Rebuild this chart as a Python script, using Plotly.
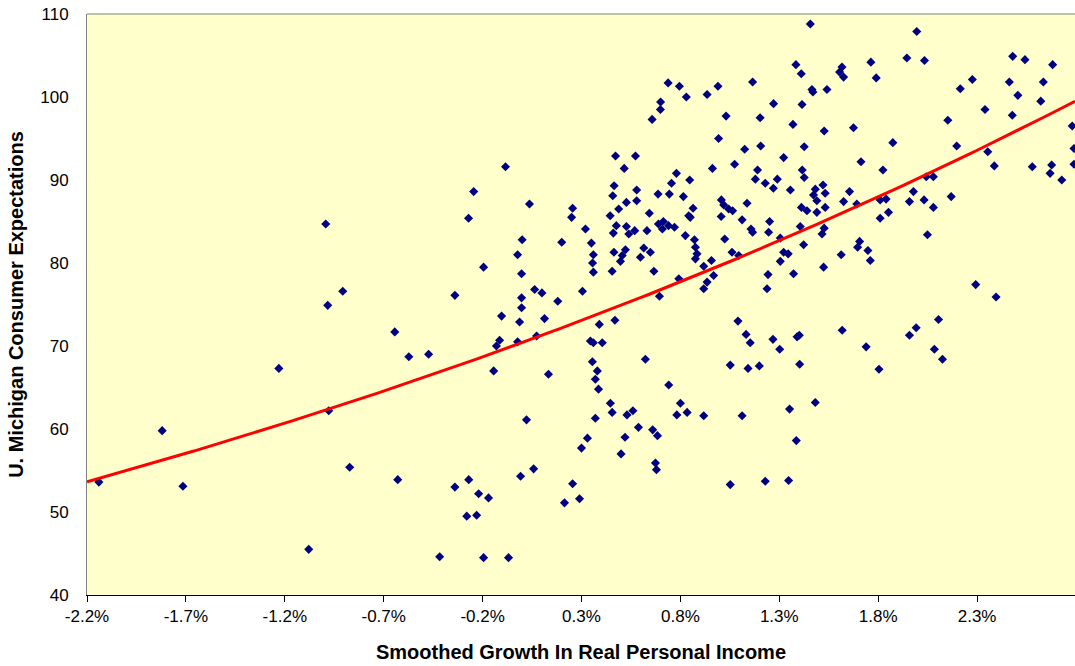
import numpy as np
import plotly.graph_objects as go

# Smoothed growth in real personal income (%), U. Michigan consumer expectations
X_GROWTH = [
    -2.14, -1.82, -1.715, -1.23, -1.079, -0.993, -0.983, -0.978, -0.907, -0.872, -0.644, -0.573, -0.629,
    -0.473, -0.417, -0.34, -0.34, -0.28, -0.271, -0.27, -0.245, -0.23, -0.22, -0.195, -0.195, -0.17, -0.144,
    -0.13, -0.114, -0.104, -0.084, -0.069, -0.023, -0.023, -0.013, -0.008, -0.003, -0.003, -0.003, 0.0, 0.022,
    0.037, 0.058, 0.063, 0.073, 0.10, 0.113, 0.133, 0.18, 0.2, 0.214, 0.25, 0.255, 0.255, 0.29, 0.30, 0.305,
    0.32, 0.33, 0.345, 0.35, 0.355, 0.356, 0.36, 0.36, 0.36, 0.37, 0.37, 0.38, 0.386, 0.39, 0.405,
    0.446, 0.455, 0.50, 0.52, 0.53, 0.56, 0.588, 0.623, 0.66, 0.674, 0.679, 0.684,
    0.469, 0.741, 0.80, 0.782, 0.834, 0.918, 1.112, 1.352, 1.091, 1.132, 1.153, 1.268, 1.302, 1.390, 1.401,
    1.403, 1.052, 1.142, 1.199, 1.052, 1.229, 1.347, 1.386,
    0.464, 0.522, 0.506, 0.497, 0.615, 0.648, 0.598, 0.455, 0.666, 0.876, 0.884, 0.876, 0.957, 0.918, 0.968,
    0.935, 0.918, 0.792, 0.694, 1.061, 1.095, 1.322, 1.345, 1.305, 1.423, 1.243, 1.372, 1.238,
    1.384, 1.411, 0.738, 0.795, 0.990, 1.165, 0.935, 0.830, 0.700, 0.699, 1.271, 1.415, 0.657, 1.031, 1.203,
    1.369, 0.993, 1.125, 1.206, 0.472, 0.573, 1.322, 0.516, 0.962, 1.074, 1.190, 1.416, 0.780, 0.847, 0.755,
    1.179, 1.229, 1.290, 1.270, 1.356, 0.465, 0.458, 0.579, 0.687, 0.744, 0.815, 0.579, 0.527, 0.488, 1.007,
    1.019, 1.044, 1.064, 1.137, 0.864, 0.445, 0.643, 0.842, 0.850, 1.006, 1.112, 1.251, 1.412, 0.476, 0.527,
    0.689, 0.714, 0.709, 0.740, 0.770, 0.461, 0.539, 0.569, 0.631, 0.825, 0.871, 1.024, 1.157, 1.165, 1.246,
    1.305,
    1.457, 1.995, 1.945, 2.034, 1.763, 1.790, 1.617, 1.605, 1.625, 1.465, 1.47, 1.541, 2.152, 2.197, 1.675,
    1.527, 1.874, 1.426, 1.713, 1.824, 1.426, 1.521, 1.482, 1.473, 1.490, 1.532, 1.655, 1.625, 1.692, 1.532,
    2.043, 2.079, 1.978, 1.958, 2.032, 2.169, 1.810, 1.840, 2.079,
    1.44, 1.490, 1.852, 1.810, 1.406, 1.527, 1.516, 2.049, 1.706, 1.696, 1.748, 1.760, 1.613, 1.524, 2.105,
    1.992, 1.958, 1.618, 1.739, 2.084, 2.125, 1.804, 1.482,
    2.480, 2.542, 2.682, 2.276, 2.215, 2.463, 2.635, 2.506, 2.622, 2.340, 2.478, 2.781, 2.354, 2.387, 2.579,
    2.677, 2.669, 2.728, 2.79, 2.79, 2.293, 2.396,
]
Y_EXPECT = [
    53.6, 59.8, 53.1, 67.3, 45.5, 84.7, 74.9, 62.2, 76.6, 55.4, 71.7, 68.7, 53.9,
    69.0, 44.6, 76.1, 53.0, 49.5, 85.4, 53.9, 88.6, 49.6, 52.2, 79.5, 44.5, 51.7, 67.0,
    70.0, 70.7, 73.6, 91.6, 44.5, 81.0, 70.5, 72.9, 54.3, 78.7, 75.8, 74.6, 82.8, 61.1,
    87.1, 55.2, 76.8, 71.2, 76.4, 73.3, 66.6, 75.4, 82.5, 51.1, 85.5, 86.6, 53.4, 51.6, 57.7, 76.6,
    84.1, 58.9, 70.6, 82.4, 68.1, 80.0, 81.0, 78.9, 70.4, 66.0, 61.3, 67.0, 64.8, 72.6, 70.4,
    63.1, 62.0, 57.0, 59.0, 61.7, 62.2, 60.2, 68.4, 59.9, 55.9, 55.1, 59.2,
    73.1, 65.3, 63.1, 61.7, 62.0, 61.6, 61.6, 62.4, 73.0, 71.4, 70.4, 70.8, 69.6, 71.1, 71.3,
    67.8, 67.7, 67.3, 67.6, 53.3, 53.7, 53.8, 58.6,
    81.3, 81.6, 80.9, 80.2, 81.8, 81.3, 80.7, 79.0, 79.0, 81.9, 81.1, 80.5, 80.3, 79.6, 78.5,
    77.7, 76.9, 78.1, 76.0, 81.3, 80.9, 81.3, 81.1, 80.2, 82.2, 78.6, 78.7, 76.9,
    103.9, 102.8, 101.7, 101.3, 101.3, 101.8, 100.3, 100.0, 99.4, 98.5, 99.2, 99.1, 97.3, 97.7, 97.5,
    96.7, 95.0, 93.7, 94.1, 92.9, 92.9, 92.7, 91.4, 91.4, 91.9, 91.2, 91.2, 90.8, 90.0, 89.6,
    90.1, 89.6, 90.1, 89.0, 88.8, 89.3, 88.1, 88.8, 88.3, 88.3, 88.0, 87.5, 87.3, 86.5, 87.6,
    87.0, 86.5, 86.3, 87.2, 86.6, 85.7, 86.0, 85.7, 85.5, 85.6, 85.2, 85.0, 86.7, 84.5, 84.4,
    84.7, 85.0, 84.1, 84.5, 84.3, 83.6, 83.5, 83.9, 83.9, 83.3, 82.8, 82.9, 84.1, 83.7, 83.7,
    83.0,
    108.8, 107.9, 104.7, 104.4, 104.2, 102.3, 103.6, 103.0, 102.4, 100.9, 100.6, 100.9, 97.2, 94.1, 96.3,
    95.9, 94.5, 94.0, 92.2, 91.2, 90.3, 89.4, 88.9, 88.2, 87.5, 88.4, 88.6, 87.4, 87.1, 86.7,
    90.4, 90.4, 88.6, 87.4, 87.6, 88.0, 87.6, 87.7, 86.7,
    86.3, 86.1, 86.1, 85.4, 84.4, 84.2, 83.5, 83.4, 82.6, 81.9, 81.5, 80.3, 81.0, 79.5, 73.2,
    72.2, 71.3, 71.9, 69.9, 69.6, 68.4, 67.2, 63.2,
    104.9, 104.5, 103.9, 102.1, 101.0, 101.8, 101.8, 100.2, 99.5, 98.5, 97.8, 96.5, 93.4, 91.7, 91.6,
    91.8, 90.8, 90.0, 93.8, 91.9, 77.4, 75.9,
]

X_TICKS = [-2.2, -1.7, -1.2, -0.7, -0.2, 0.3, 0.8, 1.3, 1.8, 2.3]
X_TICK_LABELS = ["-2.2%", "-1.7%", "-1.2%", "-0.7%", "-0.2%", "0.3%", "0.8%", "1.3%", "1.8%", "2.3%"]
Y_TICKS = [40, 50, 60, 70, 80, 90, 100, 110]
X_RANGE = [-2.2, 2.795]
Y_RANGE = [40, 110]

xs = np.array(X_GROWTH)
ys = np.array(Y_EXPECT)

# Exponential trend line fitted to the data (as a spreadsheet "exponential" trendline)
slope, intercept = np.polyfit(xs, np.log(ys), 1)
trend_x = np.linspace(X_RANGE[0], X_RANGE[1], 200)
trend_y = np.exp(intercept + slope * trend_x)

FONT = "Arial, 'Liberation Sans', sans-serif"

fig = go.Figure()
fig.add_trace(go.Scatter(
    x=xs, y=ys, mode="markers",
    marker=dict(symbol="diamond", size=7, color="#000080", line=dict(width=0)),
    showlegend=False, hoverinfo="x+y",
))
fig.add_trace(go.Scatter(
    x=trend_x, y=trend_y, mode="lines",
    line=dict(color="#FF0000", width=3),
    showlegend=False, hoverinfo="skip",
))

fig.update_layout(
    width=1075, height=666,
    margin=dict(l=87, r=0, t=14, b=71, autoexpand=False),
    paper_bgcolor="white",
    plot_bgcolor="#FFFFCC",
    font=dict(family=FONT, color="black", size=17),
    xaxis=dict(
        range=X_RANGE, tickvals=X_TICKS, ticktext=X_TICK_LABELS,
        showgrid=False, zeroline=False,
        showline=True, linecolor="black", linewidth=1,
        ticks="outside", ticklen=6, tickcolor="black",
        tickfont=dict(size=17), automargin=False,
        title=dict(text="<b>Smoothed Growth In Real Personal Income</b>",
                   font=dict(size=20), standoff=19),
    ),
    yaxis=dict(
        range=Y_RANGE, tickvals=Y_TICKS,
        showgrid=False, zeroline=False,
        showline=True, linecolor="#808080", linewidth=1,
        ticks="", ticklabelstandoff=14,
        tickfont=dict(size=17), automargin=False,
        title=dict(text="<b>U. Michigan Consumer Expectations</b>",
                   font=dict(size=20), standoff=11),
    ),
    shapes=[dict(type="line", xref="paper", yref="paper", x0=0, x1=1, y0=1, y1=1,
                 line=dict(color="#808080", width=1))],
)

fig.write_html(
    "out.html",
    config={"displayModeBar": False},
    post_script="document.body.style.margin='0';document.body.style.overflow='hidden';",
)
